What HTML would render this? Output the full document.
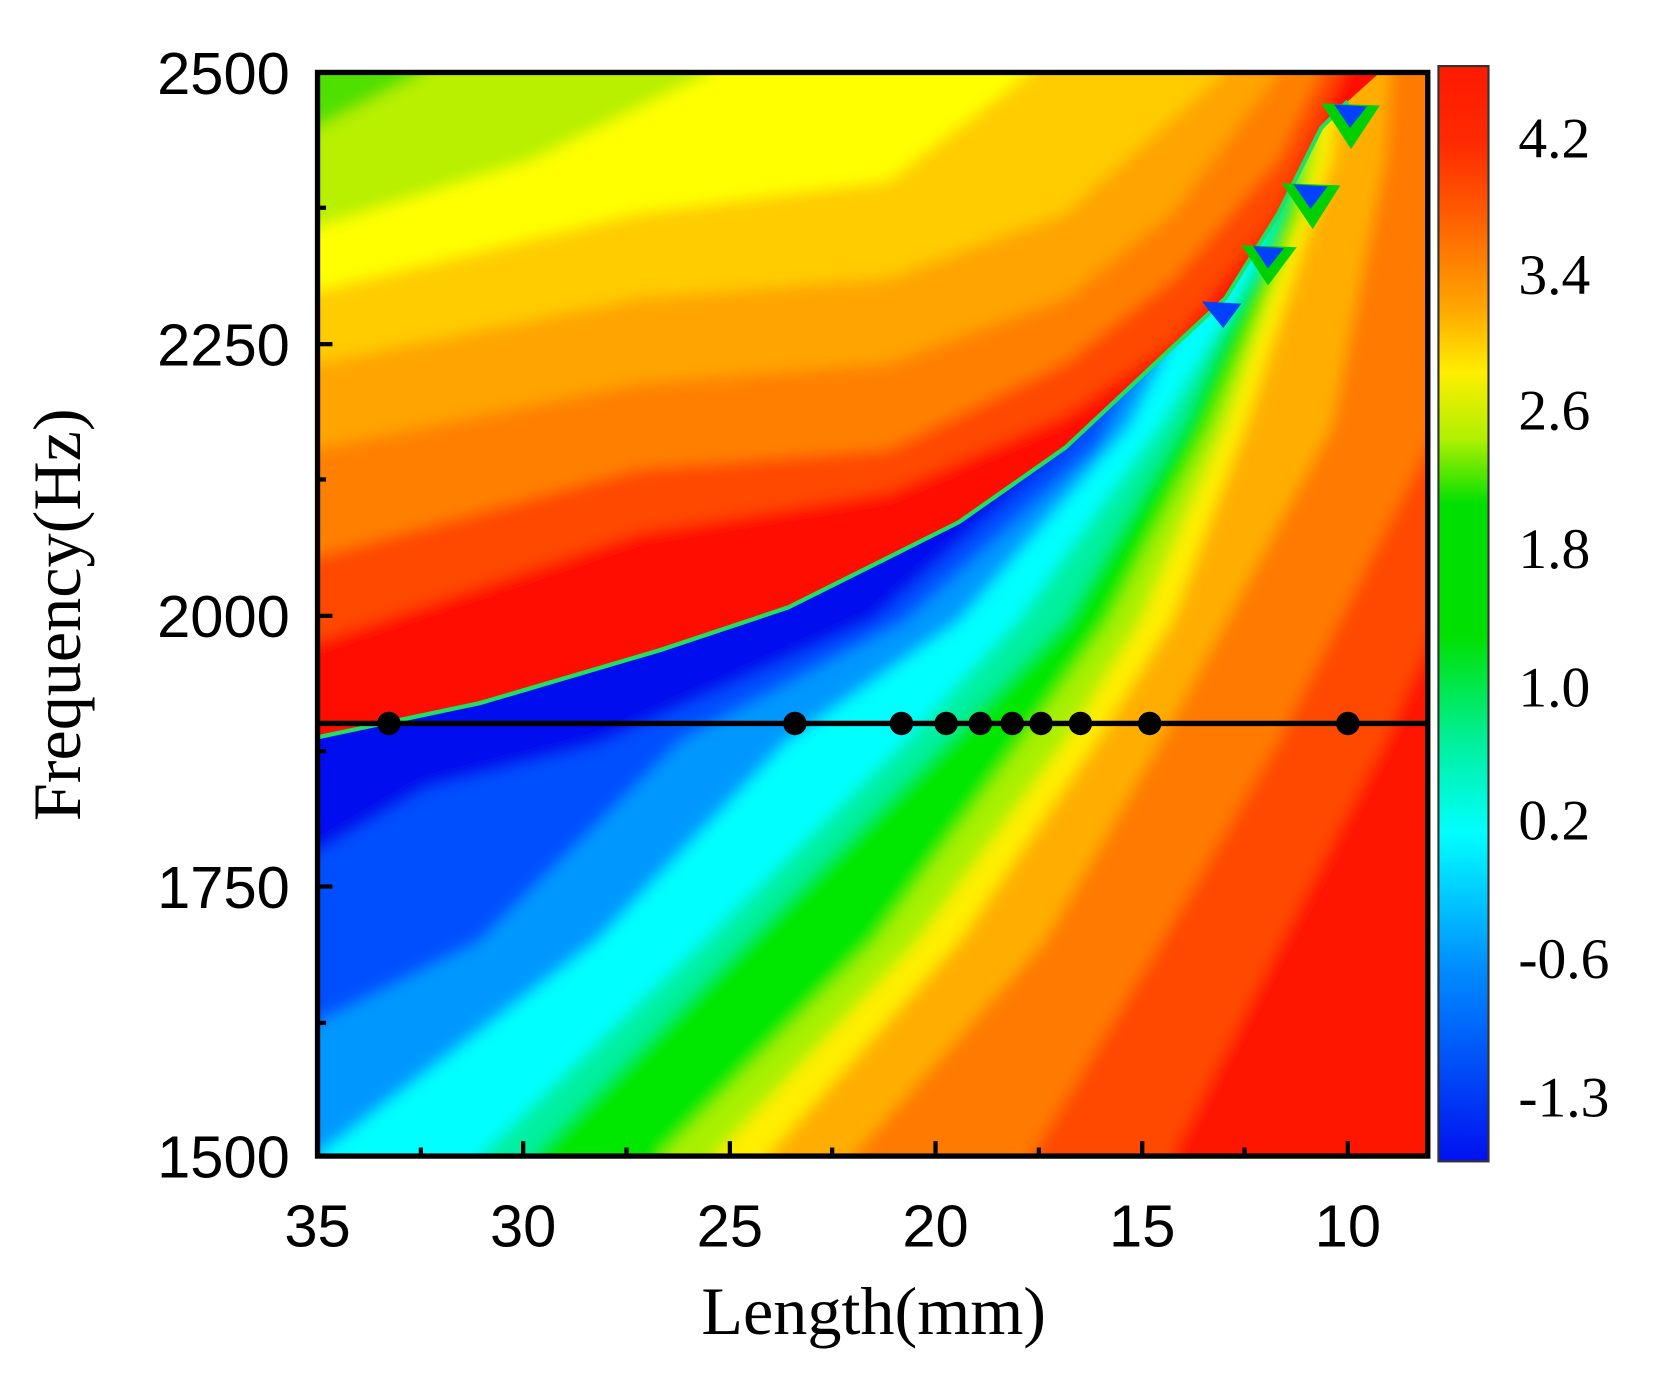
<!DOCTYPE html>
<html><head><meta charset="utf-8"><style>
html,body{margin:0;padding:0;background:#fff;}
svg{display:block;}
</style></head><body>
<svg width="1659" height="1373" viewBox="0 0 1557 1288.6" xmlns="http://www.w3.org/2000/svg">
<defs>
<filter id="b" filterUnits="userSpaceOnUse" x="0" y="0" width="1557" height="1289"><feGaussianBlur stdDeviation="7"/></filter>
<clipPath id="plot"><rect x="298" y="68" width="1042" height="1017"/></clipPath>
<clipPath id="upper"><path d="M298,68 L1295,68 L1265,95 L1240,120 L1200,200 L1150,280 L1080,345 L1000,420 L900,490 L740,570 L620,610 L450,660 L298,692 Z"/></clipPath>
<linearGradient id="cb" x1="0" y1="0" x2="0" y2="1">
<stop offset="0" stop-color="#ff1a00"/><stop offset="0.07" stop-color="#ff2a00"/>
<stop offset="0.14" stop-color="#ff6000"/><stop offset="0.22" stop-color="#ffa500"/>
<stop offset="0.28" stop-color="#ffee00"/><stop offset="0.34" stop-color="#b0f000"/>
<stop offset="0.40" stop-color="#00e000"/><stop offset="0.52" stop-color="#00e000"/>
<stop offset="0.62" stop-color="#00f0a0"/><stop offset="0.70" stop-color="#00ffff"/>
<stop offset="0.82" stop-color="#0090ff"/><stop offset="1" stop-color="#0010f0"/>
</linearGradient>
</defs>
<g clip-path="url(#plot)">
<g filter="url(#b)">
<rect x="250" y="0" width="1200" height="1200" fill="#ff1400"/>
<path d="M1100,1200 L1100,1085 L1202,884 L1300,695 L1360,560 L1400,500 L1400,0 L250,0 L250,1200Z" fill="#ff4800"/>
<path d="M968,1200 L968,1085 L1090,884 L1200,695 L1340,420 L1400,300 L1400,0 L250,0 L250,1200Z" fill="#ff7a00"/>
<path d="M800,1200 L800,1085 L980,884 L1090,695 L1250,400 L1300,150 L1310,0 L250,0 L250,1200Z" fill="#ffae00"/>
<path d="M720,1200 L720,1085 L900,884 L1030,695 L1100,583 L1169,400 L1250,150 L1270,0 L250,0 L250,1200Z" fill="#ffee00"/>
<path d="M670,1200 L670,1085 L860,884 L1000,695 L1070,583 L1150,400 L1235,150 L1250,0 L250,0 L250,1200Z" fill="#a8f000"/>
<path d="M620,1200 L620,1085 L820,884 L960,695 L1040,583 L1135,400 L1220,200 L1235,0 L250,0 L250,1200Z" fill="#00e800"/>
<path d="M500,1200 L500,1085 L700,884 L890,695 L1000,583 L1110,400 L1200,200 L1215,0 L250,0 L250,1200Z" fill="#00f0a0"/>
<path d="M450,1200 L450,1085 L660,884 L850,695 L955,583 L1088,400 L1180,250 L1230,100 L1240,0 L250,0 L250,1200Z" fill="#00ffff"/>
<path d="M250,1200 L298,1085 L560,884 L740,695 L900,583 L1060,400 L1160,200 L1180,0 L250,0Z" fill="#0098ff"/>
<path d="M250,980 L298,960 L450,884 L640,695 L850,583 L1030,420 L1140,200 L1150,0 L250,0Z" fill="#0050ff"/>
<path d="M250,810 L298,800 L400,740 L560,700 L820,583 L1000,420 L1100,200 L1100,0 L250,0Z" fill="#0010ee"/>
</g>
</g>
<g clip-path="url(#upper)">
<g filter="url(#b)">
<rect x="250" y="0" width="1200" height="800" fill="#ff1000"/>
<path d="M250,612 L298,602 L600,500 L834,462 L1000,390 L1102,321 L1200,200 L1260,68 L1270,0 L250,0Z" fill="#ff4a00"/>
<path d="M250,532 L298,522 L600,440 L834,422 L1000,340 L1102,261 L1200,150 L1240,68 L1240,0 L250,0Z" fill="#ff8000"/>
<path d="M250,431 L298,421 L600,360 L834,341 L1000,280 L1100,200 L1200,68 L1200,0 L250,0Z" fill="#ffa400"/>
<path d="M250,351 L298,341 L600,280 L834,261 L1000,200 L1150,68 L1150,0 L250,0Z" fill="#ffcc00"/>
<path d="M250,283 L298,273 L600,200 L834,170 L968,68 L968,0 L250,0Z" fill="#ffff00"/>
<path d="M250,223 L298,213 L500,150 L667,68 L667,0 L250,0Z" fill="#b8f000"/>
<path d="M250,130 L298,120 L398,68 L398,0 L250,0Z" fill="#50e000"/>
</g>
</g>
<g clip-path="url(#plot)">
<polyline points="298,692 450,660 620,610 740,570 900,490 1000,420 1080,345 1150,280 1200,200 1240,120 1265,95" fill="none" stroke="#20e060" stroke-width="4"/>
<path d="M1240,97 L1295,99 L1268,140 Z" fill="#00d000"/><path d="M1252,98 L1283,100 L1267,120 Z" fill="#0040ff"/>
<path d="M1203,172 L1258,174 L1232,215 Z" fill="#00d000"/><path d="M1214,173 L1246,175 L1230,196 Z" fill="#0040ff"/>
<path d="M1165,230 L1217,232 L1190,268 Z" fill="#00d000"/><path d="M1176,231 L1205,233 L1190,252 Z" fill="#0040ff"/>
<path d="M1128,283 L1165,285 L1148,308 Z" fill="#0040ff"/>
</g>
<line x1="298" y1="679" x2="1340" y2="679" stroke="#000" stroke-width="5"/>
<g fill="#000">
<circle cx="365" cy="679" r="11"/><circle cx="746" cy="679" r="11"/><circle cx="846" cy="679" r="11"/>
<circle cx="888" cy="679" r="11"/><circle cx="920" cy="679" r="11"/><circle cx="950" cy="679" r="11"/>
<circle cx="977" cy="679" r="11"/><circle cx="1014" cy="679" r="11"/><circle cx="1079" cy="679" r="11"/>
<circle cx="1265" cy="679" r="11"/>
</g>
<rect x="298" y="68" width="1042" height="1017" fill="none" stroke="#000" stroke-width="5"/>
<g stroke="#000" stroke-width="4">
<line x1="298" y1="323" x2="312" y2="323"/><line x1="298" y1="578" x2="312" y2="578"/><line x1="298" y1="832" x2="312" y2="832"/>
<line x1="298" y1="195" x2="306" y2="195"/><line x1="298" y1="450" x2="306" y2="450"/><line x1="298" y1="705" x2="306" y2="705"/><line x1="298" y1="960" x2="306" y2="960"/>
<line x1="491" y1="1085" x2="491" y2="1071"/><line x1="685" y1="1085" x2="685" y2="1071"/><line x1="878" y1="1085" x2="878" y2="1071"/><line x1="1072" y1="1085" x2="1072" y2="1071"/><line x1="1265" y1="1085" x2="1265" y2="1071"/>
<line x1="395" y1="1085" x2="395" y2="1077"/><line x1="588" y1="1085" x2="588" y2="1077"/><line x1="781" y1="1085" x2="781" y2="1077"/><line x1="975" y1="1085" x2="975" y2="1077"/><line x1="1168" y1="1085" x2="1168" y2="1077"/>
</g>
<rect x="1350" y="62" width="47" height="1028" fill="url(#cb)" stroke="#333" stroke-width="2"/>
<g font-family="Liberation Sans, sans-serif" font-size="56" fill="#000">
<g text-anchor="end">
<text x="272" y="88">2500</text><text x="272" y="343">2250</text><text x="272" y="598">2000</text><text x="272" y="852">1750</text><text x="272" y="1105">1500</text>
</g>
<g text-anchor="middle">
<text x="298" y="1170">35</text><text x="491" y="1170">30</text><text x="685" y="1170">25</text><text x="878" y="1170">20</text><text x="1072" y="1170">15</text><text x="1265" y="1170">10</text>
</g>
</g>
<g font-family="Liberation Serif, serif" font-size="54" fill="#000">
<text x="1425" y="148">4.2</text><text x="1425" y="276">3.4</text><text x="1425" y="403">2.6</text><text x="1425" y="533">1.8</text>
<text x="1425" y="663">1.0</text><text x="1425" y="788">0.2</text><text x="1425" y="918">-0.6</text><text x="1425" y="1048">-1.3</text>
</g>
<g font-family="Liberation Serif, serif" font-size="64" fill="#000" text-anchor="middle">
<text x="820" y="1252">Length(mm)</text>
<text transform="translate(75,577) rotate(-90)">Frequency(Hz)</text>
</g>
</svg>
</body></html>
